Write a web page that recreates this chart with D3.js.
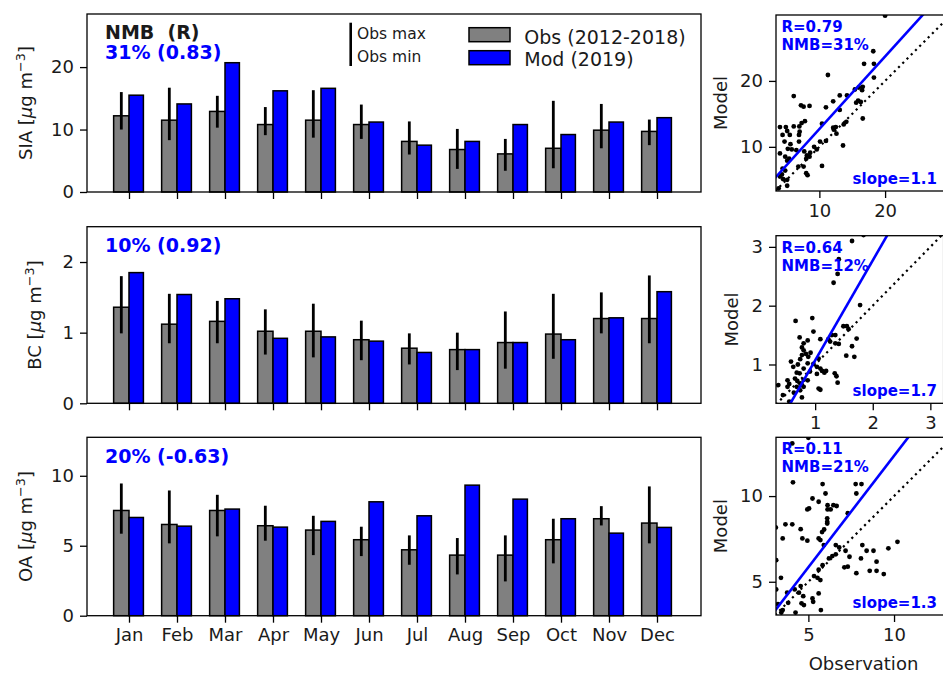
<!DOCTYPE html>
<html>
<head>
<meta charset="utf-8">
<script src="https://cdn.jsdelivr.net/npm/d3@7"></script>
<style>
  html, body { margin: 0; padding: 0; background: #fff; }
  svg { display: block; font-family: "DejaVu Sans", sans-serif; }
  text { fill: #1a1a1a; }
</style>
</head>
<body>
<svg id="chart" width="943" height="674"></svg>
<script>
// Monthly means: observations (2012-2018) vs model (2019)
const months = ["Jan","Feb","Mar","Apr","May","Jun","Jul","Aug","Sep","Oct","Nov","Dec"];

const siaObs = [12.2, 11.5, 12.9, 10.8, 11.5, 10.8, 8.1, 6.8, 6.1, 7.0, 9.9, 9.7];
const siaMod = [15.5, 14.1, 20.7, 16.2, 16.6, 11.2, 7.5, 8.1, 10.8, 9.2, 11.2, 11.9];
const siaMax = [16.0, 16.7, 15.4, 13.6, 16.3, 14.0, 11.3, 10.1, 8.5, 14.6, 14.1, 11.6];
const siaMin = [10.0, 8.3, 10.3, 9.1, 8.7, 8.5, 6.0, 3.7, 3.4, 3.8, 7.0, 7.5];

const bcObs = [1.36, 1.12, 1.16, 1.02, 1.02, 0.90, 0.78, 0.76, 0.86, 0.98, 1.20, 1.20];
const bcMod = [1.85, 1.54, 1.48, 0.92, 0.94, 0.88, 0.72, 0.76, 0.86, 0.90, 1.21, 1.58];
const bcMax = [1.80, 1.55, 1.45, 1.33, 1.41, 1.17, 0.99, 1.00, 1.30, 1.55, 1.57, 1.81];
const bcMin = [0.99, 0.85, 0.85, 0.69, 0.65, 0.61, 0.55, 0.47, 0.49, 0.63, 0.99, 0.85];

const oaObs = [7.52, 6.52, 7.52, 6.43, 6.12, 5.43, 4.71, 4.33, 4.33, 5.43, 6.93, 6.62];
const oaMod = [7.02, 6.40, 7.62, 6.33, 6.74, 8.14, 7.14, 9.33, 8.33, 6.93, 5.90, 6.31];
const oaMax = [9.45, 8.95, 8.64, 7.86, 7.14, 6.36, 5.74, 5.55, 5.74, 6.93, 7.83, 9.24];
const oaMin = [5.86, 5.17, 5.67, 5.36, 4.33, 4.26, 3.64, 2.95, 2.45, 3.74, 6.45, 5.17];

// Summary statistics: NMB and R
const siaStats = {nmb: "31%", r: "0.83", sR: "0.79", sNmb: "31%", slope: 1.1, intercept: 1.71};
const bcStats  = {nmb: "10%", r: "0.92", sR: "0.64", sNmb: "12%", slope: 1.7, intercept: -0.63};
const oaStats  = {nmb: "20%", r: "-0.63", sR: "0.11", sNmb: "21%", slope: 1.3, intercept: -0.65};

// Paired observation / model values (observation, model)
const siaPairs = [[20.0,29.9],[18.2,24.5],[16.8,22.6],[18.3,22.6],[11.3,20.9],[18.3,20.5],[16.6,19.1],[16.0,19.0],[15.4,18.7],[16.5,18.6],[6.1,17.7],[14.2,17.8],[13.1,17.8],[12.1,16.9],[15.9,17.0],[16.3,16.8],[15.6,16.7],[7.2,16.3],[7.6,16.1],[8.5,16.2],[11.0,16.0],[16.6,14.3],[13.1,15.6],[7.8,13.9],[7.3,13.6],[6.95,13.1],[4.9,13.0],[4.0,13.0],[12.1,12.9],[12.5,13.0],[13.7,13.4],[14.1,13.8],[10.4,13.5],[5.1,12.4],[6.1,13.1],[7.0,12.3],[12.6,12.0],[12.2,12.6],[4.4,11.8],[5.5,11.8],[6.9,11.8],[11.0,10.9],[10.1,10.8],[4.7,10.8],[6.9,10.8],[13.6,10.2],[5.2,9.7],[5.8,9.6],[6.5,9.5],[4.0,9.0],[9.6,9.6],[8.6,9.1],[8.1,8.7],[8.5,8.5],[8.0,8.2],[4.8,8.5],[5.4,8.2],[5.1,7.9],[6.8,7.0],[7.6,7.0],[10.4,7.1],[8.0,6.0],[8.2,5.7],[4.4,6.7],[4.8,6.4],[4.0,5.5],[4.5,5.1],[5.1,5.0],[5.1,4.1],[3.8,3.7],[4.3,5.8],[9.2,10.0],[5.6,10.4],[7.7,9.3]];
const bcPairs = [[1.84,3.2],[1.64,3.10],[1.41,2.79],[1.39,2.54],[1.32,2.39],[1.78,2.01],[0.66,1.74],[0.95,1.79],[0.97,1.56],[1.49,1.65],[1.55,1.65],[1.58,1.60],[0.73,1.46],[0.87,1.41],[0.80,1.36],[0.77,1.29],[1.09,1.43],[1.23,1.43],[1.29,1.50],[1.35,1.50],[1.26,1.39],[1.35,1.36],[1.41,1.35],[1.72,1.44],[1.64,1.31],[1.54,1.15],[1.68,1.13],[0.80,1.24],[0.84,1.18],[0.88,1.13],[0.77,1.16],[0.74,1.09],[1.06,1.10],[0.58,1.05],[0.62,0.96],[0.87,1.02],[0.97,1.01],[1.03,0.96],[1.09,0.93],[1.12,0.89],[0.80,0.93],[0.91,0.88],[1.03,0.84],[1.16,0.86],[1.19,0.89],[0.68,0.86],[0.73,0.85],[1.34,0.85],[1.37,0.80],[0.65,0.76],[0.69,0.72],[0.74,0.68],[0.80,0.74],[0.87,0.73],[1.39,0.69],[0.52,0.73],[0.55,0.67],[0.68,0.62],[0.77,0.65],[0.80,0.62],[1.06,0.59],[1.09,0.57],[0.36,0.65],[0.52,0.62],[0.74,0.56],[0.63,0.52],[0.77,0.44],[0.44,0.48],[0.55,0.37],[0.70,1.0],[0.92,1.2]];
const oaPairs = [[5.0,13.4],[4.06,13.07],[4.1,10.8],[5.83,10.7],[7.76,10.7],[8.1,10.7],[6.0,10.15],[7.8,10.15],[5.24,9.86],[5.6,9.67],[5.04,9.28],[4.94,9.22],[6.12,9.47],[6.46,9.47],[6.65,9.42],[6.12,9.22],[6.3,9.22],[7.3,9.0],[6.1,8.7],[6.1,8.5],[6.1,8.4],[3.66,8.35],[4.06,8.35],[3.1,8.17],[4.55,8.07],[5.92,8.05],[5.8,7.9],[3.5,7.53],[4.65,7.53],[4.94,7.4],[5.6,7.53],[5.7,7.43],[5.9,7.14],[6.6,7.14],[6.8,7.0],[8.15,7.14],[10.2,7.33],[9.67,6.95],[7.17,6.81],[7.4,6.46],[8.4,6.81],[8.8,6.81],[6.2,6.36],[6.4,6.5],[6.6,6.6],[8.07,6.36],[8.98,6.17],[5.83,5.97],[5.6,5.7],[7.1,5.84],[7.3,5.88],[7.8,5.5],[8.58,5.64],[8.98,5.64],[9.4,5.45],[3.12,6.26],[3.4,5.23],[5.33,5.33],[5.53,5.23],[5.7,5.1],[3.12,4.55],[4.55,4.75],[4.2,4.55],[3.76,4.36],[4.45,4.36],[4.7,4.16],[5.6,4.32],[5.24,4.03],[5.28,3.83],[4.6,3.74],[4.74,3.64],[3.23,3.7],[3.82,3.77],[3.5,3.35],[3.42,3.2],[4.25,3.2],[5.73,3.35]];

// Axis tick values
const siaTicks = [0, 10, 20];
const bcTicks = [0, 1, 2];
const oaTicks = [0, 5, 10];
const siaScatTicks = [10, 20];
const bcScatTicks = [1, 2, 3];
const oaScatTicks = [5, 10];

const legendLabels = ["Obs (2012-2018)", "Mod (2019)"];
const rangeLabels = ["Obs max", "Obs min"];

const svg = d3.select("#chart");
svg.append("rect").attr("width", 943).attr("height", 674).attr("fill", "#fff");

const FS = 18;            // tick / axis label size
const BOLD_FS = 19;       // NMB (R) header size
const OBS_COLOR = "#808080";
const MOD_COLOR = "#0000ff";
const barLeft = 87, barRight = 701;

const x = d3.scalePoint().domain(months).range([129, 657]);
const step = x.step();
const obsW = step * 0.32, modW = step * 0.30;

function yLabel(g, name, cx, cy) {
  const t = g.append("text")
    .attr("transform", `translate(${cx},${cy}) rotate(-90)`)
    .attr("text-anchor", "middle")
    .attr("font-size", FS);
  t.append("tspan").text(name + " [");
  t.append("tspan").attr("font-style", "italic").text("\u03bc");
  t.append("tspan").text("g m");
  t.append("tspan").attr("dy", -7).attr("font-size", 12.8).text("\u22123");
  t.append("tspan").attr("dy", 7).text("]");
}

function styleAxis(a) {
  a.select(".domain").remove();
  a.selectAll("line").attr("stroke", "#000").attr("stroke-width", 1.3);
  a.selectAll("text").attr("font-size", FS).attr("font-family", "DejaVu Sans").attr("fill", "#1a1a1a");
  return a;
}

function barPanel(opt) {
  const g = svg.append("g");
  const y = d3.scaleLinear().domain([0, opt.ymax]).range([opt.bottom, opt.top]);

  // bars
  g.selectAll(".obs").data(months).join("rect")
    .attr("x", d => x(d) - obsW).attr("width", obsW)
    .attr("y", (d, i) => y(opt.obs[i])).attr("height", (d, i) => y(0) - y(opt.obs[i]))
    .attr("fill", OBS_COLOR).attr("stroke", "#000").attr("stroke-width", 1.5);
  g.selectAll(".mod").data(months).join("rect")
    .attr("x", d => x(d)).attr("width", modW)
    .attr("y", (d, i) => y(opt.mod[i])).attr("height", (d, i) => y(0) - y(opt.mod[i]))
    .attr("fill", MOD_COLOR).attr("stroke", "#000").attr("stroke-width", 1.5);
  // observed range
  g.selectAll(".err").data(months).join("line")
    .attr("x1", d => x(d) - obsW / 2).attr("x2", d => x(d) - obsW / 2)
    .attr("y1", (d, i) => y(opt.min[i])).attr("y2", (d, i) => y(opt.max[i]))
    .attr("stroke", "#000").attr("stroke-width", 2.8);

  // axes
  styleAxis(g.append("g").attr("transform", `translate(${barLeft},0)`)
    .call(d3.axisLeft(y).tickValues(opt.ticks).tickSize(7).tickPadding(6).tickFormat(d3.format("d"))));
  const xa = styleAxis(g.append("g").attr("transform", `translate(0,${opt.bottom})`)
    .call(d3.axisBottom(x).tickSize(7).tickPadding(6)));
  xa.selectAll("text").style("display", opt.showMonths ? null : "none");

  // frame
  g.append("rect").attr("x", barLeft).attr("y", opt.top)
    .attr("width", barRight - barLeft).attr("height", opt.bottom - opt.top)
    .attr("fill", "none").attr("stroke", "#000").attr("stroke-width", 1.3);

  yLabel(g, opt.name, opt.labelX, (opt.top + opt.bottom) / 2);

  // NMB (R)
  g.append("text").attr("x", 105).attr("y", opt.statY)
    .attr("font-size", BOLD_FS).attr("font-weight", "bold").style("fill", MOD_COLOR)
    .text(`${opt.stats.nmb} (${opt.stats.r})`);
  return g;
}

function scatterPanel(opt) {
  const g = svg.append("g");
  const xs = d3.scaleLinear().domain(opt.xd).range([776, opt.right]);
  const ys = d3.scaleLinear().domain(opt.yd).range([opt.bottom, opt.top]);
  const clipId = "clip-" + opt.name;
  svg.append("clipPath").attr("id", clipId).append("rect")
    .attr("x", 776).attr("y", opt.top).attr("width", opt.right - 776).attr("height", opt.bottom - opt.top);
  const inner = g.append("g").attr("clip-path", `url(#${clipId})`);

  // 1:1 reference
  const lo = Math.min(opt.xd[0], opt.yd[0]), hi = Math.max(opt.xd[1], opt.yd[1]);
  inner.append("line")
    .attr("x1", xs(lo)).attr("y1", ys(lo)).attr("x2", xs(hi)).attr("y2", ys(hi))
    .attr("stroke", "#000").attr("stroke-width", 2.2).attr("stroke-dasharray", "2.2 3.8");
  // points
  inner.selectAll("circle").data(opt.pairs).join("circle")
    .attr("cx", d => xs(d[0])).attr("cy", d => ys(d[1])).attr("r", 2.4).attr("fill", "#000");
  // fitted line
  const fx0 = opt.xd[0] - 5, fx1 = opt.xd[1] + 5;
  inner.append("line")
    .attr("x1", xs(fx0)).attr("y1", ys(opt.stats.slope * fx0 + opt.stats.intercept))
    .attr("x2", xs(fx1)).attr("y2", ys(opt.stats.slope * fx1 + opt.stats.intercept))
    .attr("stroke", MOD_COLOR).attr("stroke-width", 2.6);

  // axes
  styleAxis(g.append("g").attr("transform", `translate(776,0)`)
    .call(d3.axisLeft(ys).tickValues(opt.ticks).tickSize(7).tickPadding(6).tickFormat(d3.format("d"))));
  styleAxis(g.append("g").attr("transform", `translate(0,${opt.bottom})`)
    .call(d3.axisBottom(xs).tickValues(opt.ticks).tickSize(7).tickPadding(6).tickFormat(d3.format("d"))));

  g.append("rect").attr("x", 776).attr("y", opt.top)
    .attr("width", opt.right - 776).attr("height", opt.bottom - opt.top)
    .attr("fill", "none").attr("stroke", "#000").attr("stroke-width", 1.3);

  g.append("text").attr("transform", `translate(${opt.labelX},${(opt.top + opt.bottom) / 2}) rotate(-90)`)
    .attr("text-anchor", "middle").attr("font-size", FS).text("Model");

  const ann = (tx, ty, s, anchor) => g.append("text").attr("x", tx).attr("y", ty)
    .attr("text-anchor", anchor).attr("font-size", 15).attr("font-weight", "bold")
    .style("fill", MOD_COLOR).text(s);
  ann(781.5, opt.top + 17, `R=${opt.stats.sR}`, "start");
  ann(781.5, opt.top + 35, `NMB=${opt.stats.sNmb}`, "start");
  ann(937, opt.bottom - 7, `slope=${opt.stats.slope.toFixed(1)}`, "end");
  return g;
}

// --- left column: monthly bars ---
barPanel({name: "SIA", top: 14, bottom: 192, ymax: 28.5, ticks: siaTicks,
  obs: siaObs, mod: siaMod, max: siaMax, min: siaMin, stats: siaStats, statY: 59.3, labelX: 32, showMonths: false});
barPanel({name: "BC", top: 226.7, bottom: 403.3, ymax: 2.5, ticks: bcTicks,
  obs: bcObs, mod: bcMod, max: bcMax, min: bcMin, stats: bcStats, statY: 251.7, labelX: 41, showMonths: false});
barPanel({name: "OA", top: 437.3, bottom: 615.7, ymax: 12.75, ticks: oaTicks,
  obs: oaObs, mod: oaMod, max: oaMax, min: oaMin, stats: oaStats, statY: 463.3, labelX: 32, showMonths: true});

// header and legend in the SIA panel
svg.append("text").attr("x", 105).attr("y", 39.3).attr("font-size", BOLD_FS).attr("font-weight", "bold")
  .attr("xml:space", "preserve").style("white-space", "pre").text("NMB  (R)");
svg.append("line").attr("x1", 350.7).attr("x2", 350.7).attr("y1", 22.7).attr("y2", 66)
  .attr("stroke", "#000").attr("stroke-width", 2.6);
rangeLabels.forEach((s, i) => svg.append("text").attr("x", 357).attr("y", 39.3 + i * 22.4)
  .attr("font-size", 15.5).text(s));
[OBS_COLOR, MOD_COLOR].forEach((c, i) => {
  svg.append("rect").attr("x", 469).attr("y", 27.7 + i * 23).attr("width", 41).attr("height", 14)
    .attr("fill", c).attr("stroke", "#000").attr("stroke-width", 1.5);
  svg.append("text").attr("x", 524.3).attr("y", 43.8 + i * 22).attr("font-size", 19).text(legendLabels[i]);
});

// --- right column: scatter comparisons ---
scatterPanel({name: "sia", xd: [3.4, 30], yd: [3.3, 30], right: 950.8, top: 15, bottom: 191,
  ticks: siaScatTicks, pairs: siaPairs, stats: siaStats, labelX: 726.5});
scatterPanel({name: "bc", xd: [0.32, 3.23], yd: [0.34, 3.19], right: 943.6, top: 235.7, bottom: 403.3,
  ticks: bcScatTicks, pairs: bcPairs, stats: bcStats, labelX: 737.5});
scatterPanel({name: "oa", xd: [3.11, 13.43], yd: [3.06, 13.43], right: 952.8, top: 437.3, bottom: 615,
  ticks: oaScatTicks, pairs: oaPairs, stats: oaStats, labelX: 726.5});

svg.append("text").attr("x", 863.5).attr("y", 670).attr("text-anchor", "middle")
  .attr("font-size", FS).text("Observation");
</script>
</body>
</html>
